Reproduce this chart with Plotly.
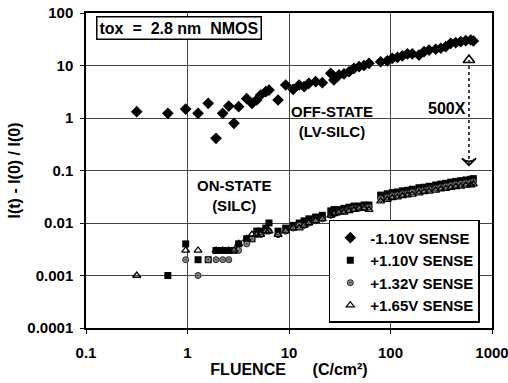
import plotly.graph_objects as go

# Fluence grid (C/cm^2)
fluence = [0.316, 0.64, 0.96, 1.27, 1.6, 1.91, 2.22, 2.55, 2.87, 3.19, 3.83, 4.32, 4.81, 5.26,
           5.9, 6.35, 7.8, 9.28, 11.0, 12.6, 14.1, 15.7, 18.3, 21.3, 25.8, 27.7, 31.1, 34.8,
           39, 43.7, 49, 54.8, 61.4, 80, 93, 104, 117, 131, 147, 164, 191, 214, 240, 279,
           313, 350, 392, 439, 492, 551, 617, 655]

# -1.10V SENSE (off-state, LV-SILC)
neg110 = [1.32, 1.23, 1.48, 1.23, 1.9, 0.41, 1.23, 1.69, 0.79, 1.64, 2.33, 1.9, 2.2, 2.74,
          3.17, 3.41, 2.2, 4.25, 3.52, 4.25, 3.95, 4.58, 4.91, 4.7, 7.1, 5.3, 6.6, 6.9,
          7.6, 8.85, 9.5, 10.0, 11.0, 11.8, 12.3, 13.7, 14.3, 15.2, 16.6, 16.6, 15.8, 18.3,
          19.7, 20.4, 21.3, 22.8, 26.5, 27.2, 28.4, 29.7, 30.6, 29.3]

# +1.10V SENSE
pos110 = [None, 0.001, 0.004, 0.002, 0.002, 0.003, 0.003, 0.003, 0.003, 0.004, 0.005, 0.005,
          0.007, 0.007, 0.008, 0.010, 0.007, 0.008, 0.009, 0.010, 0.011, 0.012, 0.013, 0.014,
          0.017, 0.018, 0.018, 0.019, 0.020, 0.021, 0.021, 0.022, 0.022, 0.034, 0.036, 0.038,
          0.039, 0.041, 0.042, 0.044, 0.047, 0.048, 0.050, 0.053, 0.055, 0.057, 0.060, 0.062,
          0.064, 0.066, 0.068, 0.070]

# +1.32V SENSE
pos132 = [None, None, 0.002, 0.001, 0.002, 0.002, 0.002, 0.002, 0.003, 0.003, 0.004, 0.005,
          0.006, 0.006, 0.007, 0.007, 0.006, 0.007, 0.008, 0.009, 0.009, 0.010, 0.011, 0.012,
          0.014, 0.015, 0.016, 0.017, 0.018, 0.019, 0.019, 0.020, 0.020, 0.029, 0.031, 0.033,
          0.034, 0.036, 0.037, 0.039, 0.041, 0.042, 0.044, 0.046, 0.048, 0.050, 0.052, 0.054,
          0.056, 0.058, 0.059, 0.061]

# +1.65V SENSE
pos165 = [0.001, None, 0.003, 0.003, None, 0.003, 0.003, 0.003, 0.003, 0.004, 0.005, 0.006,
          0.006, 0.006, 0.007, 0.007, 0.006, 0.007, 0.008, 0.008, 0.009, 0.010, 0.011, 0.012,
          0.014, 0.015, 0.016, 0.016, 0.017, 0.018, 0.019, 0.019, 0.018, 0.026, 0.028, 0.030,
          0.031, 0.033, 0.034, 0.035, 0.037, 0.039, 0.040, 0.042, 0.044, 0.045, 0.047, 0.049,
          0.050, 0.052, 0.053, 0.055]

x_tickvals = [0.1, 1, 10, 100, 1000]
x_ticktext = ["0.1", "1", "10", "100", "1000"]
y_tickvals = [0.0001, 0.001, 0.01, 0.1, 1, 10, 100]
y_ticktext = ["0.0001", "0.001", "0.01", "0.1", "1", "10", "100"]

# 500X arrow (fluence, top value, bottom value)
arrow_x = 593
arrow_top = 12.7
arrow_bottom = 0.125

FONT = "Liberation Sans, Arial, sans-serif"
NB = "\u00a0"

fig = go.Figure()

fig.add_trace(go.Scatter(x=fluence, y=neg110, mode="markers", name="<b>-1.10V SENSE</b>",
                         marker=dict(symbol="diamond", size=9, color="black")))
fig.add_trace(go.Scatter(x=fluence, y=pos110, mode="markers", name="<b>+1.10V SENSE</b>",
                         marker=dict(symbol="square", size=7, color="black")))
fig.add_trace(go.Scatter(x=fluence, y=pos132, mode="markers", name="<b>+1.32V SENSE</b>",
                         marker=dict(symbol="circle-dot", size=6, color="#888888",
                                     line=dict(color="#222222", width=1))))
fig.add_trace(go.Scatter(x=fluence, y=pos165, mode="markers", name="<b>+1.65V SENSE</b>",
                         marker=dict(symbol="triangle-up-open", size=7, color="black",
                                     line=dict(width=1.3))))

# dotted double arrow
fig.add_trace(go.Scatter(x=[arrow_x, arrow_x], y=[arrow_top, arrow_bottom], mode="lines",
                         line=dict(color="black", width=1.5, dash="dot"),
                         showlegend=False, hoverinfo="skip"))
fig.add_trace(go.Scatter(x=[arrow_x], y=[arrow_top], mode="markers",
                         marker=dict(symbol="triangle-up-open", size=10, color="black",
                                     line=dict(width=1.6)),
                         showlegend=False, hoverinfo="skip"))
fig.add_trace(go.Scatter(x=[arrow_x], y=[arrow_bottom], mode="markers",
                         marker=dict(symbol="arrow-wide-open", size=10, angle=180, color="black",
                                     line=dict(width=1.6)),
                         showlegend=False, hoverinfo="skip"))

fig.update_layout(
    width=508, height=383,
    margin=dict(l=86, r=16, t=13, b=55, autoexpand=False),
    paper_bgcolor="white", plot_bgcolor="white",
    font=dict(family=FONT, color="black", size=14),
    legend=dict(x=0.97, y=0.016, xanchor="right", yanchor="bottom",
                bordercolor="black", borderwidth=1.5, bgcolor="white",
                font=dict(size=15, family=FONT), itemsizing="trace",
                tracegroupgap=0, itemwidth=30),
    showlegend=True,
)

fig.update_xaxes(type="log", range=[-1, 3], tickvals=x_tickvals, ticktext=x_ticktext,
                 showgrid=True, gridcolor="#444444", gridwidth=1,
                 showline=True, linecolor="black", linewidth=1.5, mirror=True,
                 ticks="outside", ticklen=4, tickcolor="black", ticklabelstandoff=6,
                 ticklabeloverflow="allow", automargin=False,
                 tickfont=dict(size=15, family=FONT, weight="bold"),
                 title=dict(text=f"<b>FLUENCE{NB*6}(C/cm²)</b>", font=dict(size=16), standoff=4),
                 zeroline=False)
fig.update_yaxes(type="log", range=[-4, 2], tickvals=y_tickvals, ticktext=y_ticktext,
                 showgrid=True, gridcolor="#444444", gridwidth=1,
                 showline=True, linecolor="black", linewidth=1.5, mirror=True,
                 ticks="outside", ticklen=4, tickcolor="black", ticklabelstandoff=4,
                 ticklabeloverflow="allow", automargin=False,
                 tickfont=dict(size=15, family=FONT, weight="bold"),
                 title=dict(text="<b>I(t) - I(0) / I(0)</b>", font=dict(size=16), standoff=3),
                 zeroline=False)

fig.add_annotation(x=0.025, y=0.99, xref="paper", yref="paper", xanchor="left", yanchor="top",
                   text=f"<b>tox{NB} ={NB} 2.8 nm{NB} NMOS</b>", showarrow=False,
                   font=dict(size=16), bordercolor="black", borderwidth=1.5,
                   bgcolor="white", borderpad=2)
fig.add_annotation(x=1.424, y=-0.06, xref="x", yref="y", xanchor="center", yanchor="middle",
                   text="<b>OFF-STATE<br>(LV-SILC)</b>", showarrow=False, font=dict(size=15))
fig.add_annotation(x=0.458, y=-1.47, xref="x", yref="y", xanchor="center", yanchor="middle",
                   text="<b>ON-STATE<br>(SILC)</b>", showarrow=False, font=dict(size=15))
fig.add_annotation(x=2.765, y=0.19, xref="x", yref="y", xanchor="right", yanchor="middle",
                   text="<b>500X</b>", showarrow=False, font=dict(size=16))

fig.write_html("out.html", config={"displayModeBar": False},
               post_script="document.body.style.margin='0';"
                           "document.documentElement.style.overflow='hidden';")
